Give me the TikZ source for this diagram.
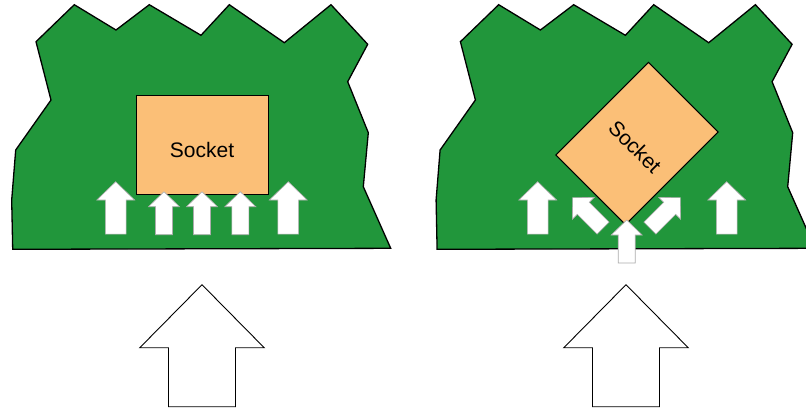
\documentclass[tikz,border=0pt]{standalone}
\usepackage{fontspec}
\setmainfont{Liberation Sans}
\definecolor{boardgreen}{RGB}{33,150,59}
\definecolor{socketorange}{RGB}{251,191,119}
\tikzset{
  board/.style={fill=boardgreen, draw=black, line width=1.3pt, line join=miter},
  socketbox/.style={fill=socketorange, draw=black, line width=1pt, inner sep=0pt},
  socklabel/.style={inner sep=0pt, font=\fontsize{21}{25}\selectfont},
  smallarrow/.style={fill=white, draw=gray!65, line width=0.6pt},
  bigarrow/.style={fill=white, draw=black, line width=0.9pt},
  boardshape/.pic={
    \path[board] (74.3,4.7) -- (116,30) -- (149.3,4.7) -- (201,35.3) -- (229.3,4.7)
      -- (284.3,42.7) -- (331,4.7) -- (367.7,44.3) -- (347.7,81.7) -- (368.3,132.7)
      -- (363.3,186.7) -- (390.7,248.3) -- (12.7,249.3) -- (11.7,200) -- (15.7,150)
      -- (51,100) -- (36,41.7) -- cycle;
  },
  blockarrow/.pic={
    \path[smallarrow] (0,0) -- (15.5,15) -- (8.5,15) -- (8.5,43) -- (-8.5,43)
      -- (-8.5,15) -- (-15.5,15) -- cycle;
  },
  bigblock/.pic={
    \path[bigarrow] (0,0) -- (62.2,63) -- (33.5,63) -- (33.5,122) -- (-33.5,122)
      -- (-33.5,63) -- (-62.2,63) -- cycle;
  }
}
\begin{document}
\begin{tikzpicture}[x=1pt,y=-1pt]
\useasboundingbox (0,0) rectangle (806,410);
\clip (0,0) rectangle (806,410);

% boards
\pic at (0,0) {boardshape};
\pic at (424.4,0) {boardshape};

% sockets
\node[socketbox, minimum width=132pt, minimum height=98.3pt] (sockL) at (202,144.85) {};
\node[socklabel] (labL) at (202,149.5) {Socket};
\node[socketbox, minimum width=131pt, minimum height=98.5pt, rotate=45] (sockR) at (637,143.5) {};
\node[socklabel, rotate=-45] (labR) at (635,146.5) {Socket};

% left small arrows
\pic[scale=1.22] at (115.7,181.7) {blockarrow};
\pic at (164,191.7) {blockarrow};
\pic at (202,191.7) {blockarrow};
\pic at (240.3,191.7) {blockarrow};
\pic[scale=1.22] at (288.3,181.7) {blockarrow};

% right small arrows
\pic[scale=1.22] at (537.7,181.7) {blockarrow};
\pic[rotate=45] at (572.7,197.7) {blockarrow};
\pic at (626.7,220) {blockarrow};
\pic[rotate=-45] at (680.3,197.7) {blockarrow};
\pic[scale=1.22] at (726.7,181.7) {blockarrow};

% big arrows
\pic at (202,284.7) {bigblock};
\pic at (626,284.7) {bigblock};
\end{tikzpicture}
\end{document}
